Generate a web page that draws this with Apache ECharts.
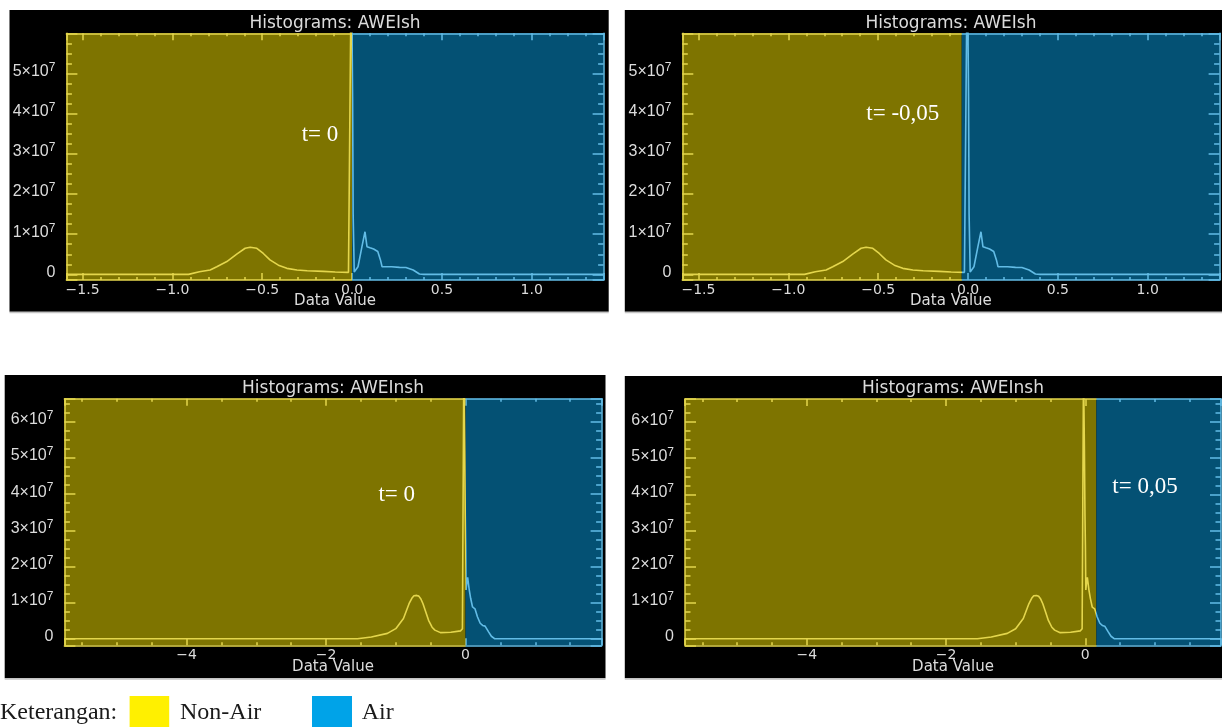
<!DOCTYPE html>
<html>
<head>
<meta charset="utf-8">
<script src="https://cdn.jsdelivr.net/npm/echarts@6/dist/echarts.min.js"></script>
<style>
html,body{margin:0;padding:0;background:#ffffff;}
#c{width:1222px;height:727px;}
</style>
</head>
<body>
<div id="c"></div>
<script>
// ---------------- data ----------------
const aweishX = [-1.59, -0.91, -0.90, -0.85, -0.79, -0.753, -0.697, -0.64, -0.595, -0.567, -0.53, -0.494, -0.457, -0.41, -0.363, -0.307, -0.25, -0.16, -0.094, -0.02, -0.004, 0.003, 0.006, 0.012, 0.033, 0.055, 0.072, 0.083, 0.10, 0.12, 0.143, 0.158, 0.167, 0.176, 0.22, 0.264, 0.30, 0.34, 0.375, 0.40, 1.40];
const aweishY = [0, 0, 0.4e6, 0.65e6, 1.1e6, 1.9e6, 3.2e6, 5.1e6, 6.5e6, 6.75e6, 6.5e6, 5.2e6, 3.6e6, 2.3e6, 1.5e6, 1.1e6, 0.9e6, 0.75e6, 0.58e6, 0.5e6, 8.0e7, 4.4e7, 1.5e7, 0.6e6, 1.9e6, 6.9e6, 10.6e6, 6.9e6, 6.6e6, 6.3e6, 5.7e6, 3.6e6, 1.9e6, 1.85e6, 1.9e6, 1.75e6, 1.7e6, 1.1e6, 0.1e6, 0, 0];

const aweinshX = [-5.75, -1.55, -1.35, -1.12, -1.0, -0.89, -0.81, -0.77, -0.74, -0.70, -0.67, -0.64, -0.61, -0.57, -0.53, -0.48, -0.44, -0.36, -0.21, -0.07, -0.045, -0.025, -0.012, -0.004, 0.002, 0.008, 0.015, 0.03, 0.053, 0.073, 0.10, 0.135, 0.17, 0.21, 0.245, 0.28, 0.33, 0.37, 0.42, 1.95];
const aweinshY = [0, 0, 0.5e6, 1.5e6, 2.8e6, 5.6e6, 9.7e6, 11.2e6, 11.9e6, 12.0e6, 11.8e6, 11.0e6, 9.7e6, 7.4e6, 5.1e6, 3.2e6, 2.4e6, 1.7e6, 1.8e6, 2.2e6, 2.8e6, 7.5e7, 5.2e7, 3.4e7, 2.6e7, 1.35e7, 1.5e7, 1.7e7, 1.35e7, 1.12e7, 0.88e7, 0.83e7, 0.61e7, 0.43e7, 0.37e7, 0.35e7, 0.19e7, 0.07e7, 0, 0];

const panelTitles = ['Histograms: AWEIsh', 'Histograms: AWEIsh', 'Histograms: AWEInsh', 'Histograms: AWEInsh'];
const thresholdLabels = ['t= 0', 't= -0,05', 't= 0', 't= 0,05'];
const splitValues = [0, -0.035, 0, 0.16];
const xMins = [-1.59, -1.59, -5.75, -5.75];
const xMaxs = [1.40, 1.40, 1.95, 1.95];
const yMins = [-1.4e6, -1.4e6, -1.8e6, -1.8e6];
const yMaxs = [6.0e7, 6.0e7, 6.64e7, 6.64e7];
const xSteps = [0.5, 0.5, 2, 2];
const xMinorSplits = [5, 5, 4, 4];
const xDecimals = [1, 1, 0, 0];
const yStep = 1e7;
const xAxisName = 'Data Value';
const legendTitle = 'Keterangan:';
const legendNames = ['Non-Air', 'Air'];

// ---------------- layout & style ----------------
const panelData = [[aweishX, aweishY], [aweishX, aweishY], [aweinshX, aweinshY], [aweinshX, aweinshY]];
const grids = [
  {left: 66.4, top: 33.3, width: 537.2, height: 246.7},
  {left: 682.3, top: 33.3, width: 537.3, height: 246.7},
  {left: 64.4, top: 398.7, width: 537.2, height: 246.6},
  {left: 685, top: 399, width: 536, height: 246.3}
];
const boxes = [
  {x: 9.5, y: 10, width: 599.2, height: 301.7},
  {x: 624.8, y: 10, width: 597.2, height: 301.7},
  {x: 4.7, y: 375, width: 600.8, height: 303.3},
  {x: 624.8, y: 376, width: 597.2, height: 302.3}
];
const titleY = [23.2, 23.2, 388.2, 388.9];
const tLabelPos = [[338.3, 135.2, 'right'], [939.3, 114.2, 'right'], [415, 495.2, 'right'], [1112.3, 486.8, 'left']];

const OLIVE = '#7e7400';
const NAVY = '#045174';
const YEL = '#e4d64c';
const BLU = '#62bce6';
const TXT = '#dcdcdc';
const SANS = '"DejaVu Sans", sans-serif';
const LSANS = '"Liberation Sans", "DejaVu Sans", sans-serif';
const SERIF = '"Liberation Serif", "Times New Roman", serif';

function fmtX(dec) {
  return function (v) {
    if (Math.abs(v) < 1e-9) v = 0;
    return v.toFixed(dec).replace('-', '\u2212');
  };
}
function fmtY(v) {
  const n = Math.round(v / yStep);
  return n === 0 ? '{b|0}' : '{b|' + n + '\u00d710}{s|7}';
}

function buildOption(splitPx) {
  const grid = [], xAxis = [], yAxis = [], series = [], visualMap = [], graphic = [];
  boxes.forEach(function (b) {
    graphic.push({type: 'rect', z: -10, silent: true, shape: {x: b.x, y: b.y, width: b.width, height: b.height}, style: {fill: '#000000'}});
    graphic.push({type: 'rect', z: -10, silent: true, shape: {x: b.x, y: b.y + b.height, width: b.width, height: 1.5}, style: {fill: '#c4c4c4'}});
  });
  for (let i = 0; i < 4; i++) {
    const g = grids[i];
    grid.push({left: g.left, top: g.top, width: g.width, height: g.height, show: false, containLabel: false, outerBoundsMode: 'none'});
    const xc = splitPx ? new echarts.graphic.LinearGradient(splitPx[i] - 0.5, 0, splitPx[i] + 0.5, 0,
      [{offset: 0, color: YEL}, {offset: 1, color: BLU}], true) : YEL;
    const xCommon = {
      type: 'value', gridIndex: i, min: xMins[i], max: xMaxs[i],
      minInterval: xSteps[i], maxInterval: xSteps[i], z: 10,
      splitLine: {show: false},
      axisLine: {show: true, onZero: false, lineStyle: {color: xc, width: 1.5}},
      axisTick: {show: true, inside: true, length: 7, lineStyle: {color: xc, width: 1.5}},
      minorTick: {show: true, splitNumber: xMinorSplits[i], length: 3, lineStyle: {color: xc, width: 1.5}}
    };
    xAxis.push(Object.assign({}, xCommon, {
      position: 'bottom',
      axisLabel: {show: true, margin: 3, color: TXT, fontFamily: SANS, fontSize: 14,
        showMinLabel: false, showMaxLabel: false, formatter: fmtX(xDecimals[i])},
      name: xAxisName, nameLocation: 'middle', nameGap: 14, nameMoveOverlap: false,
      nameTextStyle: {color: TXT, fontFamily: SANS, fontSize: 15}
    }));
    xAxis.push(Object.assign({}, xCommon, {position: 'top', axisLabel: {show: false}}));
    const yCommon = {
      type: 'value', gridIndex: i, min: yMins[i], max: yMaxs[i],
      minInterval: yStep, maxInterval: yStep, z: 10,
      splitLine: {show: false}
    };
    yAxis.push(Object.assign({}, yCommon, {
      position: 'left',
      axisLine: {show: true, onZero: false, lineStyle: {color: YEL, width: 1.5}},
      axisTick: {show: true, inside: true, length: 11, lineStyle: {color: YEL, width: 1.5}},
      minorTick: {show: true, splitNumber: 4, length: 5.5, lineStyle: {color: YEL, width: 1.5}},
      axisLabel: {show: true, margin: 11, color: TXT, padding: [0, 0, 4, 0],
        showMinLabel: false, showMaxLabel: false, formatter: fmtY,
        rich: {
          b: {fontFamily: LSANS, fontSize: 16, lineHeight: 20, color: TXT},
          s: {fontFamily: LSANS, fontSize: 12, lineHeight: 8, verticalAlign: 'top', color: TXT}
        }}
    }));
    yAxis.push(Object.assign({}, yCommon, {
      position: 'right',
      axisLine: {show: true, onZero: false, lineStyle: {color: BLU, width: 1.5}},
      axisTick: {show: true, inside: true, length: 11, lineStyle: {color: BLU, width: 1.5}},
      minorTick: {show: true, splitNumber: 4, length: 5.5, lineStyle: {color: BLU, width: 1.5}},
      axisLabel: {show: false}
    }));
    const xs = panelData[i][0], ys = panelData[i][1];
    const pts = xs.map(function (x, k) { return [x, ys[k]]; });
    series.push({
      type: 'line', name: panelTitles[i], xAxisIndex: 2 * i, yAxisIndex: 2 * i,
      data: pts, showSymbol: false, symbol: 'none', clip: true, silent: true,
      lineStyle: {width: 1.6}, z: 3,
      markArea: {
        silent: true, label: {show: false},
        data: [
          [{xAxis: xMins[i], itemStyle: {color: OLIVE, borderWidth: 0}}, {xAxis: splitValues[i]}],
          [{xAxis: splitValues[i], itemStyle: {color: NAVY, borderWidth: 0}}, {xAxis: xMaxs[i]}]
        ]
      }
    });
    visualMap.push({
      type: 'piecewise', show: false, seriesIndex: i, dimension: 0,
      pieces: [
        {gte: xMins[i] - 10, lt: splitValues[i], color: YEL},
        {gte: splitValues[i], lte: xMaxs[i] + 10, color: BLU}
      ]
    });
    graphic.push({type: 'text', z: 100, silent: true, x: g.left + g.width / 2, y: titleY[i],
      style: {text: panelTitles[i], fill: TXT, fontFamily: SANS, fontSize: 17, align: 'center', verticalAlign: 'middle'}});
    const tp = tLabelPos[i];
    graphic.push({type: 'text', z: 100, silent: true, x: tp[0], y: tp[1],
      style: {text: thresholdLabels[i], fill: '#ffffff', fontFamily: SERIF, fontSize: 23, align: tp[2], verticalAlign: 'middle'}});
  }
  // legend ("Keterangan")
  graphic.push({type: 'text', z: 100, silent: true, x: 0, y: 712.5,
    style: {text: legendTitle, fill: '#1a1a1a', fontFamily: SERIF, fontSize: 24, align: 'left', verticalAlign: 'middle'}});
  graphic.push({type: 'rect', z: 100, silent: true, shape: {x: 129.6, y: 696, width: 39.6, height: 31}, style: {fill: '#fff000'}});
  graphic.push({type: 'text', z: 100, silent: true, x: 180, y: 712.5,
    style: {text: legendNames[0], fill: '#1a1a1a', fontFamily: SERIF, fontSize: 24, align: 'left', verticalAlign: 'middle'}});
  graphic.push({type: 'rect', z: 100, silent: true, shape: {x: 312, y: 696, width: 40, height: 31}, style: {fill: '#00a3e8'}});
  graphic.push({type: 'text', z: 100, silent: true, x: 361.7, y: 712.5,
    style: {text: legendNames[1], fill: '#1a1a1a', fontFamily: SERIF, fontSize: 24, align: 'left', verticalAlign: 'middle'}});

  return {animation: false, backgroundColor: '#ffffff', grid: grid, xAxis: xAxis, yAxis: yAxis,
    series: series, visualMap: visualMap, graphic: graphic};
}

const chart = echarts.init(document.getElementById('c'), null, {renderer: 'canvas'});
chart.setOption(buildOption(null));
const splitPx = splitValues.map(function (s, i) { return chart.convertToPixel({xAxisIndex: 2 * i}, s); });
chart.setOption(buildOption(splitPx), true);
</script>
</body>
</html>
